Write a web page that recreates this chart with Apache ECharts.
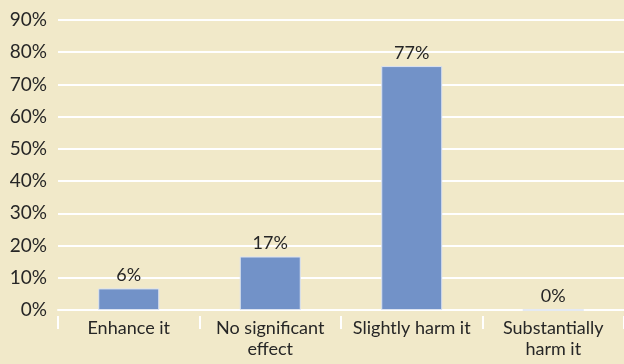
<!DOCTYPE html>
<html>
<head>
<meta charset="utf-8">
<script src="https://cdn.jsdelivr.net/npm/echarts@6/dist/echarts.min.js"></script>
<style>
  html, body { margin: 0; padding: 0; background: #F1E9C9; }
  #main { width: 624px; height: 364px; }
</style>
</head>
<body>
<div id="main"></div>
<script>
// data
var categories = ['Enhance it', 'No significant\neffect', 'Slightly harm it', 'Substantially\nharm it'];
var shares = [6.7, 16.6, 75.7, 0];
var shareLabels = ['6%', '17%', '77%', '0%'];
var yTicks = [0, 10, 20, 30, 40, 50, 60, 70, 80, 90];

var chart = echarts.init(document.getElementById('main'));
var textColor = '#262626';
var font = 'Lato';

chart.setOption({
    backgroundColor: '#F1E9C9',
    animation: false,
    grid: { left: 58, right: -6, top: 20, bottom: 54 },
    xAxis: [
        {
            type: 'category',
            data: categories,
            axisLine: { lineStyle: { color: '#ffffff', width: 2 } },
            axisTick: { show: false },
            axisLabel: {
                color: textColor, fontFamily: font, fontSize: 18,
                lineHeight: 21, margin: 8, interval: 0
            }
        },
        {
            // tick marks sit a little below the axis line
            type: 'category',
            data: categories,
            position: 'bottom',
            offset: 6,
            axisLine: { show: false },
            axisTick: { show: true, length: 13, lineStyle: { color: '#ffffff', width: 2 } },
            axisLabel: { show: false }
        }
    ],
    yAxis: {
        type: 'value',
        min: yTicks[0],
        max: yTicks[yTicks.length - 1],
        interval: 10,
        axisLine: { show: false },
        axisTick: { show: false },
        splitLine: { lineStyle: { color: '#ffffff', width: 2 } },
        axisLabel: {
            color: textColor, fontFamily: font, fontSize: 19, margin: 11,
            formatter: function (v) { return v + '%'; }
        }
    },
    series: [{
        type: 'bar',
        data: shares,
        barWidth: 61,
        itemStyle: { color: '#7292C8', borderColor: '#DCE3F0', borderWidth: 1 },
        label: {
            show: true, position: 'top', distance: 4,
            color: textColor, fontFamily: font, fontSize: 18,
            formatter: function (p) { return shareLabels[p.dataIndex]; }
        }
    }]
});
</script>
</body>
</html>
